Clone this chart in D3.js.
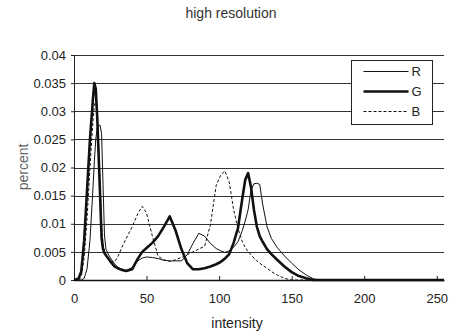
<!DOCTYPE html>
<html>
<head>
<meta charset="utf-8">
<script src="https://cdn.jsdelivr.net/npm/d3@7"></script>
<style>
  body { margin: 0; background: #fff; }
  svg { font-family: "Liberation Sans", Arial, sans-serif; }
</style>
</head>
<body>
<div id="chart"></div>
<script>
// intensity sample points shared by the three channels
const intensity = [0, 3, 5, 7, 9, 11, 13, 14, 15, 16, 17, 18, 19, 20, 21, 22, 24, 26, 28, 30,
  33, 36, 40, 44, 47, 50, 54, 58, 62, 66, 70, 74, 78, 82, 86, 90, 94, 98, 101, 104,
  107, 110, 113, 116, 118, 120, 122, 124, 126, 128, 130, 133, 136, 140, 145, 150, 155, 160, 165, 170, 255];

const rValues = [0, 0, 0, 0.0003, 0.002, 0.007, 0.016, 0.021, 0.025, 0.027, 0.0275, 0.0275, 0.026, 0.017, 0.008, 0.0055, 0.0044, 0.0036, 0.0029, 0.0023,
  0.0019, 0.0017, 0.0022, 0.0034, 0.0039, 0.0041, 0.004, 0.0038, 0.0035, 0.0034, 0.0034, 0.0034, 0.0045, 0.0065, 0.0083, 0.0078, 0.0065, 0.0056, 0.0052, 0.0049,
  0.0052, 0.0058, 0.0068, 0.0088, 0.0105, 0.0125, 0.016, 0.0171, 0.0172, 0.017, 0.0135, 0.0095, 0.0074, 0.0058, 0.0043, 0.003, 0.0018, 0.0009, 0.0002, 0, 0];

const gValues = [0, 0.0002, 0.0015, 0.007, 0.016, 0.025, 0.032, 0.035, 0.034, 0.029, 0.022, 0.015, 0.0075, 0.0055, 0.0048, 0.0044, 0.0037, 0.003, 0.0024, 0.0021,
  0.0018, 0.0016, 0.0019, 0.0038, 0.005, 0.0057, 0.0066, 0.0078, 0.0095, 0.0113, 0.0088, 0.0055, 0.003, 0.0019, 0.0019, 0.0021, 0.0024, 0.0028, 0.0032, 0.0038,
  0.0046, 0.0066, 0.0092, 0.0145, 0.0178, 0.019, 0.0165, 0.0125, 0.0095, 0.0078, 0.0068, 0.0055, 0.0046, 0.0036, 0.0024, 0.0014, 0.0007, 0.0003, 0, 0, 0];

const bValues = [0, 0, 0.0005, 0.004, 0.011, 0.02, 0.028, 0.031, 0.032, 0.029, 0.024, 0.017, 0.01, 0.0065, 0.005, 0.0043, 0.0036, 0.0032, 0.0033, 0.004,
  0.0058, 0.0074, 0.0094, 0.0118, 0.0131, 0.0119, 0.0078, 0.0042, 0.0036, 0.0033, 0.0036, 0.004, 0.0045, 0.005, 0.0055, 0.006, 0.0098, 0.0168, 0.0186, 0.0194,
  0.0174, 0.0125, 0.0092, 0.0068, 0.0058, 0.005, 0.0045, 0.0039, 0.0034, 0.003, 0.0026, 0.0021, 0.0015, 0.0009, 0.0003, 0, 0, 0, 0, 0, 0];

const yTicks = [0, 0.005, 0.01, 0.015, 0.02, 0.025, 0.03, 0.035, 0.04];
const xTicks = [0, 50, 100, 150, 200, 250];

const series = [
  { name: 'R', values: rValues, width: 1, dash: null },
  { name: 'G', values: gValues, width: 2.6, dash: null },
  { name: 'B', values: bValues, width: 1, dash: '3,2' }
];

const W = 452, H = 335;
const margin = { top: 55, right: 8, bottom: 55, left: 74 };
const width = W - margin.left - margin.right;
const height = H - margin.top - margin.bottom;

const svg = d3.select('#chart')
  .append('svg')
  .attr('width', W)
  .attr('height', H);

svg.append('text')
  .attr('x', 231)
  .attr('y', 18)
  .attr('text-anchor', 'middle')
  .style('font-size', '14px')
  .style('fill', '#333')
  .text('high resolution');

const g = svg.append('g')
  .attr('transform', `translate(${margin.left},${margin.top})`);

const x = d3.scaleLinear().domain([0, 255]).range([0, width]);
const y = d3.scaleLinear().domain([0, 0.04]).range([height, 0]);

// gridlines
g.selectAll('.grid')
  .data(yTicks.slice(1))
  .enter().append('line')
  .attr('x1', 0)
  .attr('x2', width)
  .attr('y1', d => Math.round(y(d)) + 0.5)
  .attr('y2', d => Math.round(y(d)) + 0.5)
  .attr('stroke', '#333')
  .attr('stroke-width', 1);

// y axis
const yAxis = g.append('g')
  .call(d3.axisLeft(y).tickValues(yTicks).tickSize(3).tickFormat(d => d === 0 ? '0' : d3.format('')(+d.toFixed(3))));
yAxis.select('.domain').attr('stroke', '#222');
yAxis.selectAll('line').attr('stroke', '#222');
yAxis.selectAll('text')
  .attr('x', -8)
  .style('font-size', '13px')
  .style('font-family', '"Liberation Sans", Arial, sans-serif')
  .style('fill', '#222');

// x axis
const xAxis = g.append('g')
  .attr('transform', `translate(0,${height})`)
  .call(d3.axisBottom(x).tickValues(xTicks).tickSizeInner(-4).tickSizeOuter(0));
xAxis.select('.domain').attr('stroke', '#111').attr('stroke-width', 1.5);
xAxis.selectAll('line').attr('stroke', '#222');
xAxis.selectAll('text')
  .attr('y', 14)
  .style('font-size', '13px')
  .style('font-family', '"Liberation Sans", Arial, sans-serif')
  .style('fill', '#222');

// lines
const line = d3.line()
  .x((d, i) => x(intensity[i]))
  .y(d => y(d));

series.forEach(s => {
  g.append('path')
    .datum(s.values)
    .attr('fill', 'none')
    .attr('stroke', '#111')
    .attr('stroke-width', s.width)
    .attr('stroke-dasharray', s.dash)
    .attr('stroke-linejoin', 'round')
    .attr('d', line);
});

// axis titles
svg.append('text')
  .attr('x', 237)
  .attr('y', 328)
  .attr('text-anchor', 'middle')
  .style('font-size', '14px')
  .style('fill', '#222')
  .text('intensity');

svg.append('text')
  .attr('transform', 'translate(28,167) rotate(-90)')
  .attr('text-anchor', 'middle')
  .style('font-size', '14px')
  .style('fill', '#666')
  .text('percent');

// legend
const legend = svg.append('g').attr('transform', 'translate(351.5,60.5)');
legend.append('rect')
  .attr('width', 81)
  .attr('height', 64)
  .attr('fill', '#fff')
  .attr('stroke', '#222');

const items = legend.selectAll('.legend-item')
  .data(series)
  .enter().append('g')
  .attr('transform', (d, i) => `translate(0,${11 + i * 20})`);

items.append('line')
  .attr('x1', 12)
  .attr('x2', 57)
  .attr('stroke', '#111')
  .attr('stroke-width', d => d.width)
  .attr('stroke-dasharray', d => d.dash);

items.append('text')
  .attr('x', 60)
  .attr('dy', '0.35em')
  .style('font-size', '13px')
  .style('fill', '#222')
  .text(d => d.name);
</script>
</body>
</html>
